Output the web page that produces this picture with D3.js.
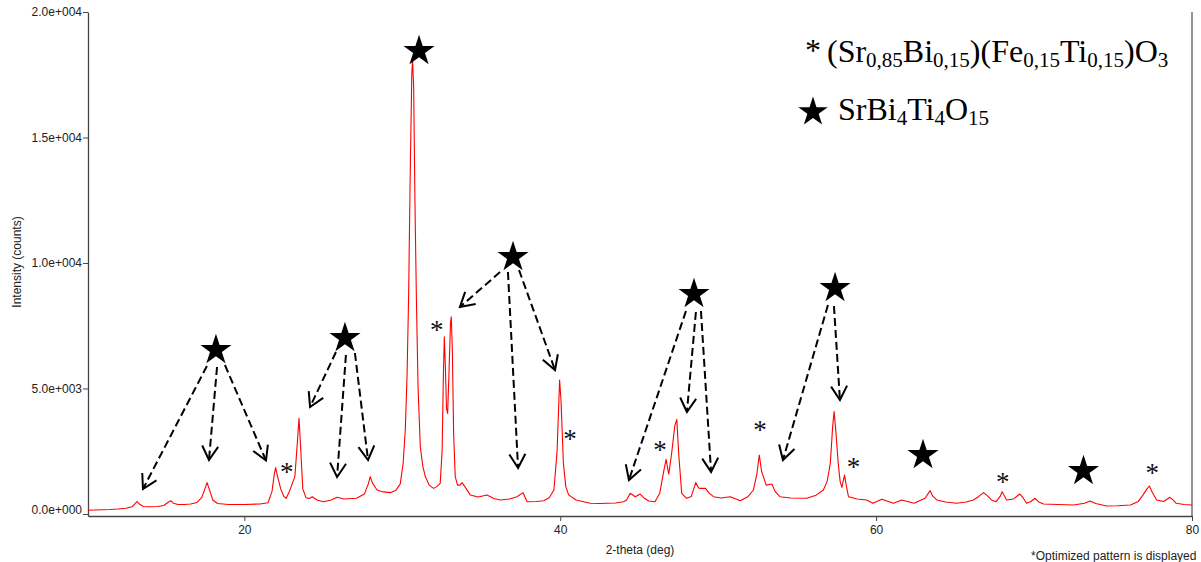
<!DOCTYPE html>
<html>
<head>
<meta charset="utf-8">
<script src="https://cdn.jsdelivr.net/npm/d3@7"></script>
<style>
  html, body { margin: 0; padding: 0; background: #fff; }
  svg { display: block; }
</style>
</head>
<body>
<svg id="chart" width="1201" height="562"></svg>
<script>
// XRD pattern: 2-theta (deg) and intensity (counts)
const twoTheta = [
  10.1, 10.5, 11.0, 11.5, 12.0, 12.5, 12.9, 13.1, 13.2, 13.35, 13.6, 14.0, 14.5, 14.9, 15.2, 15.35, 15.5, 15.8, 16.2, 16.6,
  17.0, 17.3, 17.5, 17.64, 17.8, 18.0, 18.3, 19.0, 20.0, 21.0, 21.5, 21.75, 21.9, 21.98, 22.1, 22.3, 22.5, 22.65, 22.85, 23.0,
  23.2, 23.35, 23.46, 23.55, 23.7, 23.9, 24.1, 24.3, 24.6, 25.0, 25.5, 25.87, 26.3, 27.1, 27.6, 27.85, 27.97, 28.1, 28.4, 28.8,
  29.24, 29.6, 29.87, 30.05, 30.19, 30.3, 30.4, 30.5, 30.6, 30.65, 30.72, 30.8, 30.89, 31.0, 31.14, 31.3, 31.46, 31.7, 31.98, 32.2,
  32.4, 32.52, 32.6, 32.66, 32.72, 32.8, 32.87, 32.95, 33.05, 33.1, 33.17, 33.25, 33.35, 33.5, 33.65, 33.78, 33.95, 34.3, 34.8, 35.36,
  35.8, 36.2, 36.8, 37.26, 37.64, 37.9, 38.5, 38.95, 39.3, 39.6, 39.8, 39.96, 40.05, 40.2, 40.35, 40.53, 41.0, 41.9, 42.5, 43.5,
  44.0, 44.2, 44.43, 44.75, 45.06, 45.3, 45.6, 46.0, 46.3, 46.55, 46.7, 46.87, 47.05, 47.25, 47.38, 47.5, 47.69, 48.0, 48.3, 48.58,
  48.75, 48.86, 49.2, 49.4, 49.7, 50.2, 50.76, 51.4, 51.9, 52.23, 52.45, 52.6, 52.75, 53.04, 53.4, 53.6, 53.9, 54.6, 55.6, 56.2,
  56.66, 56.9, 57.1, 57.25, 57.34, 57.45, 57.6, 57.72, 57.83, 58.0, 58.12, 58.25, 58.8, 59.4, 59.8, 60.36, 61.1, 61.62, 62.4, 63.1,
  63.42, 63.6, 63.84, 64.4, 65.1, 65.7, 66.16, 66.5, 66.8, 67.0, 67.3, 67.6, 67.85, 67.98, 68.1, 68.26, 68.7, 69.1, 69.3, 69.53,
  69.8, 70.06, 70.3, 70.6, 71.5, 72.5, 73.2, 73.54, 73.9, 74.6, 75.3, 76.1, 76.6, 76.9, 77.15, 77.3, 77.5, 77.76, 78.2, 78.6,
  78.8, 79.0, 79.5, 80.0
];
const counts = [
  150, 160, 170, 180, 200, 230, 290, 420, 490, 400, 300, 290, 300, 340, 480, 530, 430, 380, 380, 400,
  460, 650, 1000, 1250, 950, 560, 420, 380, 380, 400, 450, 900, 1600, 1850, 1500, 1000, 700, 625, 900, 1150,
  1500, 2800, 3810, 2800, 1000, 650, 620, 690, 560, 490, 560, 665, 600, 625, 800, 1200, 1490, 1250, 955, 880,
  850, 950, 1200, 2000, 3350, 5500, 8660, 13500, 17500, 18090, 17000, 12500, 8660, 5000, 2680, 1900, 1490, 1150, 1020, 1100,
  1220, 2500, 5500, 7060, 6000, 4200, 4010, 5500, 7600, 7860, 6500, 3200, 1490, 1150, 1150, 1250, 1100, 760, 680, 760,
  620, 560, 600, 690, 850, 490, 500, 530, 650, 955, 2500, 5340, 4500, 2020, 1100, 760, 560, 425, 420, 440,
  490, 560, 825, 690, 795, 640, 520, 490, 825, 1700, 2180, 1590, 2400, 3500, 3770, 2400, 825, 625, 700, 1250,
  1050, 1020, 1020, 850, 690, 640, 690, 530, 700, 955, 1600, 2350, 1700, 1150, 1195, 900, 690, 640, 625, 750,
  955, 1300, 2020, 3500, 4080, 3300, 2020, 1300, 1060, 1550, 1100, 690, 600, 560, 425, 585, 425, 560, 425, 625,
  930, 700, 560, 480, 425, 480, 560, 700, 850, 750, 560, 490, 700, 890, 750, 560, 600, 795, 650, 425,
  500, 625, 480, 400, 380, 360, 430, 520, 420, 320, 330, 360, 500, 760, 1000, 1115, 850, 560, 500, 665,
  560, 425, 380, 360
];

// Axis ticks
const xTickValues = [20, 40, 60, 80];
const yTickValues = [0, 5000, 10000, 15000, 20000];
const yTickLabels = ["0.0e+000", "5.0e+003", "1.0e+004", "1.5e+004", "2.0e+004"];

// SrBi4Ti4O15 reflection markers (star positions)
const starTheta  = [18.20, 26.37, 31.06, 37.01, 48.47, 57.40, 62.97, 73.13];
const starCounts = [6534, 7012, 18446, 10239, 8765, 9004, 2351, 1713];

// Perovskite reflection markers (asterisk positions)
const asteriskTheta  = [22.68, 32.18, 40.62, 46.32, 52.65, 58.56, 68.01, 77.49];
const asteriskCounts = [1821, 7462, 3147, 2681, 3478, 2020, 1422, 1781];

// Dashed pointers from stars to the peaks they label
const arrowFromTheta  = [17.63, 18.27, 18.77, 25.80, 26.43, 27.00, 36.19, 36.69, 37.39, 47.96, 48.59, 48.91, 56.95, 57.33];
const arrowFromCounts = [5897, 5856, 5936, 6454, 6335, 6414, 9641, 9641, 9721, 8088, 8048, 8088, 8327, 8287];
const arrowToTheta    = [13.58, 17.76, 21.37, 24.16, 25.87, 27.83, 33.65, 37.33, 39.67, 44.35, 48.02, 49.55, 54.10, 57.71];
const arrowToCounts   = [996, 2151, 2131, 4263, 1474, 2151, 8247, 1833, 5737, 1355, 4064, 1673, 2151, 4542];

// Legend formula parts: [text, isSubscript]
const legendPhase1 = [["(Sr", false], ["0,85", true], ["Bi", false], ["0,15", true], [")(Fe", false],
                      ["0,15", true], ["Ti", false], ["0,15", true], [")O", false], ["3", true]];
const legendPhase2 = [["SrBi", false], ["4", true], ["Ti", false], ["4", true], ["O", false], ["15", true]];

const svg = d3.select("#chart");
const sans = "'Liberation Sans', Arial, sans-serif";
const serif = "'Liberation Serif', 'Times New Roman', serif";

const x = d3.scaleLinear().domain([10.1, 80]).range([88, 1192]);
const y = d3.scaleLinear().domain([-80, 20000]).range([516, 12]);

// Right frame edge
svg.append("line")
  .attr("x1", x(80)).attr("x2", x(80))
  .attr("y1", y(20000)).attr("y2", y(-80))
  .attr("stroke", "#7a7a7a").attr("stroke-width", 1.6);

// X axis
const gx = svg.append("g")
  .attr("transform", `translate(0,${y(-80)})`)
  .call(d3.axisBottom(x).tickValues(xTickValues).tickSize(5).tickSizeOuter(0).tickPadding(4).tickFormat(d3.format("d")));
// Y axis
const gy = svg.append("g")
  .attr("transform", `translate(${x(10.1)},0)`)
  .call(d3.axisLeft(y).tickValues(yTickValues).tickSize(5).tickSizeOuter(0).tickPadding(1)
    .tickFormat((d, i) => yTickLabels[i]));

[gx, gy].forEach(g => {
  g.select(".domain").attr("stroke", "#444").attr("stroke-width", 1.3);
  g.selectAll(".tick line").attr("stroke", "#444");
  g.selectAll(".tick text").attr("fill", "#222").style("font-family", sans).style("font-size", "12px");
});
// bottom label sits slightly above its tick
gy.selectAll(".tick").filter(d => d === 0).select("text").attr("dy", "0.0em");

// Axis titles
svg.append("text")
  .attr("x", 640).attr("y", 554)
  .attr("text-anchor", "middle")
  .style("font-family", sans).style("font-size", "12px").attr("fill", "#222")
  .text("2-theta (deg)");
svg.append("text")
  .attr("transform", "translate(21,262) rotate(-90)")
  .attr("text-anchor", "middle")
  .style("font-family", sans).style("font-size", "12px").attr("fill", "#222")
  .text("Intensity (counts)");
svg.append("text")
  .attr("x", 1031).attr("y", 560)
  .style("font-family", sans).style("font-size", "12px").attr("fill", "#222")
  .text("*Optimized pattern is displayed");

// Pattern
const pattern = twoTheta.map((t, i) => [t, counts[i]]);
svg.append("path")
  .datum(pattern)
  .attr("fill", "none")
  .attr("stroke", "#ff0000")
  .attr("stroke-width", 1.1)
  .attr("stroke-linejoin", "round")
  .attr("d", d3.line().x(d => x(d[0])).y(d => y(d[1])));

// Dashed pointers with open arrowheads
const headLen = 16, headAngle = Math.PI / 6;
const arrows = arrowFromTheta.map((t, i) => ({
  x1: x(t), y1: y(arrowFromCounts[i]), x2: x(arrowToTheta[i]), y2: y(arrowToCounts[i])
}));
const ga = svg.append("g").attr("stroke", "#000").attr("fill", "none").attr("stroke-width", 2);
ga.selectAll("line.shaft").data(arrows).join("line")
  .attr("class", "shaft")
  .attr("x1", d => d.x1).attr("y1", d => d.y1)
  .attr("x2", d => d.x2).attr("y2", d => d.y2)
  .attr("stroke-dasharray", "8,4");
ga.selectAll("path.head").data(arrows).join("path")
  .attr("class", "head")
  .attr("stroke-linejoin", "miter")
  .attr("d", d => {
    const a = Math.atan2(d.y2 - d.y1, d.x2 - d.x1);
    const p1 = [d.x2 - headLen * Math.cos(a - headAngle), d.y2 - headLen * Math.sin(a - headAngle)];
    const p2 = [d.x2 - headLen * Math.cos(a + headAngle), d.y2 - headLen * Math.sin(a + headAngle)];
    return `M${p1[0]},${p1[1]}L${d.x2},${d.y2}L${p2[0]},${p2[1]}`;
  });

// Star markers
const star = d3.symbol().type(d3.symbolStar);
svg.append("g").selectAll("path").data(starTheta).join("path")
  .attr("transform", (t, i) => `translate(${x(t)},${y(starCounts[i])})`)
  .attr("d", star.size(300)())
  .attr("fill", "#000");

// Asterisk markers
const astSize = 27;
svg.append("g").selectAll("text").data(asteriskTheta).join("text")
  .attr("x", t => x(t))
  .attr("y", (t, i) => y(asteriskCounts[i]) + 0.465 * astSize)
  .attr("text-anchor", "middle")
  .style("font-family", serif).style("font-size", astSize + "px")
  .attr("fill", "#111")
  .text("*");

// Legend
const legFont = 32, subFont = 21, subShift = 5;
function formula(parts, x0, yBase) {
  const t = svg.append("text").attr("x", x0).attr("y", yBase)
    .style("font-family", serif).style("font-size", legFont + "px").attr("fill", "#000");
  let shifted = false;
  parts.forEach(([s, sub]) => {
    const ts = t.append("tspan").text(s);
    if (sub) {
      ts.style("font-size", subFont + "px");
      if (!shifted) { ts.attr("dy", subShift); shifted = true; }
    } else if (shifted) {
      ts.attr("dy", -subShift); shifted = false;
    }
  });
}
svg.append("text")
  .attr("x", 813).attr("y", 46 + 0.465 * legFont)
  .attr("text-anchor", "middle")
  .style("font-family", serif).style("font-size", legFont + "px")
  .text("*");
formula(legendPhase1, 827, 62);
svg.append("path")
  .attr("transform", "translate(813,112)")
  .attr("d", d3.symbol().type(d3.symbolStar).size(270)())
  .attr("fill", "#000");
formula(legendPhase2, 838, 120);
</script>
</body>
</html>
